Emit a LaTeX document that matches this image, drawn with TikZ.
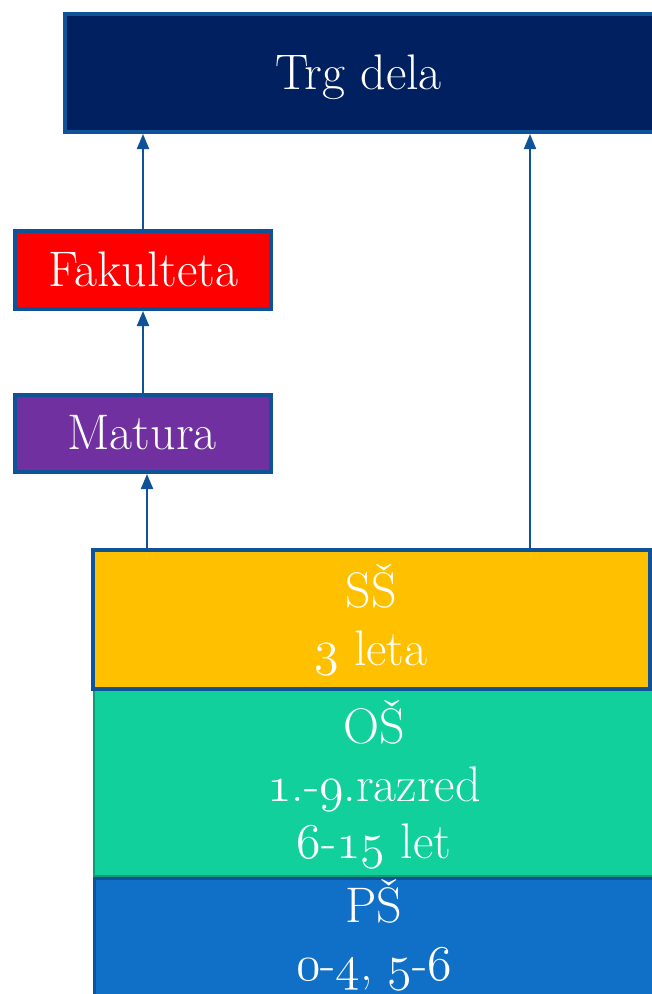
\RequirePackage{fix-cm}
\documentclass[tikz,border=0pt]{standalone}
\usetikzlibrary{arrows.meta}
\definecolor{bordc}{HTML}{0F5298}
\definecolor{navyc}{HTML}{002060}
\definecolor{redc}{HTML}{FF0000}
\definecolor{purpc}{HTML}{7030A0}
\definecolor{yelc}{HTML}{FFC000}
\definecolor{greenc}{HTML}{12D09C}
\definecolor{dgreenc}{HTML}{0E9C74}
\definecolor{bluec}{HTML}{1070C8}
\newcommand\osn[1]{{\usefont{OML}{cmm}{m}{it}#1}}
\begin{document}
\begin{tikzpicture}[x=1pt,y=-1pt,
  boxc/.style={rectangle,draw=bordc,line width=4pt,inner sep=0pt},
  lbl/.style={text=white,font=\fontsize{50}{60}\selectfont,inner sep=0pt,anchor=base},
  arr/.style={draw=bordc,line width=2pt,-{Triangle[width=12pt,length=15pt]}}]
\clip (0,0) rectangle (652,994);
\fill[white] (0,0) rectangle (652,994);
% boxes
\node[boxc,fill=navyc,minimum width=594pt,minimum height=118pt] (trg) at (362,73) {};
\node[boxc,fill=redc,minimum width=256pt,minimum height=78pt] (fak) at (143,270) {};
\node[boxc,fill=purpc,minimum width=256pt,minimum height=77pt] (mat) at (143,433.5) {};
\node[rectangle,draw=dgreenc,line width=2pt,fill=greenc,inner sep=0pt,minimum width=566pt,minimum height=186pt] (os) at (377,783) {};
\node[rectangle,draw=bordc,line width=3pt,fill=bluec,inner sep=0pt,minimum width=565.5pt,minimum height=120pt] (ps) at (377.25,938) {};
\node[boxc,fill=yelc,minimum width=557pt,minimum height=139pt] (ss) at (371.5,619.5) {};
% texts
\node[lbl] (ttrg) at (358.5,89) {Trg dela};
\node[lbl] (tfak) at (143.5,286) {Fakulteta};
\node[lbl] (tmat) at (142,449) {Matura};
\node[lbl] (tss1) at (371,607) {SŠ};
\node[lbl] (tss2) at (371,665) {\osn{3} leta};
\node[lbl] (tos1) at (374,743) {OŠ};
\node[lbl] (tos2) at (374,801) {\osn{1}.-\osn{9}.razred};
\node[lbl] (tos3) at (374,858) {\osn{6}-\osn{15} let};
\node[lbl] (tps1) at (374,922.5) {PŠ};
\node[lbl] (tps2) at (374,980) {\osn{0}-\osn{4}, \osn{5}-\osn{6}};
% arrows
\coordinate (c3) at (147,510);
\coordinate (c4) at (530,340);
\draw[arr] (fak.north) -- (fak.north |- trg.south);
\draw[arr] (mat.north) -- (mat.north |- fak.south);
\draw[arr] (ss.north -| c3) -- (mat.south -| c3);
\draw[arr] (ss.north -| c4) -- (trg.south -| c4);
\end{tikzpicture}
\end{document}
